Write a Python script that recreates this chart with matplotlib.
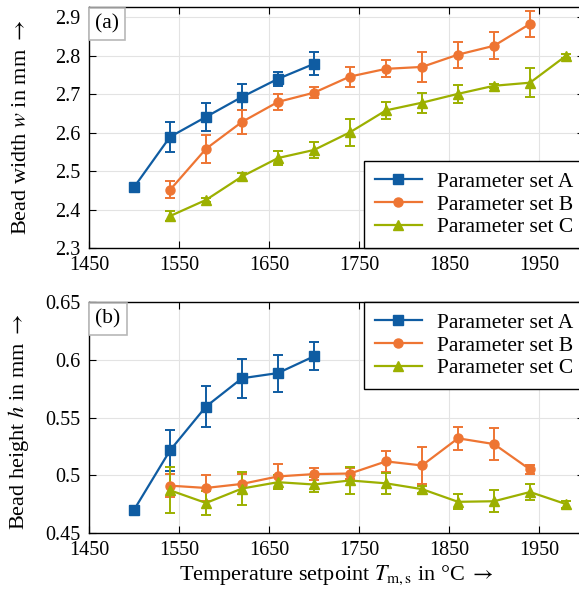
import matplotlib
matplotlib.use("Agg")
import matplotlib.pyplot as plt
from matplotlib.lines import Line2D
from matplotlib.ticker import FormatStrFormatter
from matplotlib.transforms import offset_copy

plt.rcParams['font.family'] = ['Liberation Serif', 'DejaVu Serif']
plt.rcParams['mathtext.fontset'] = 'stix'

# temperatures
T_A = [1500, 1540, 1580, 1620, 1660, 1700]
T_B = [1540, 1580, 1620, 1660, 1700, 1740, 1780, 1820, 1860, 1900, 1940]
T_C = [1540, 1580, 1620, 1660, 1700, 1740, 1780, 1820, 1860, 1900, 1940, 1980]

# bead width w
w_A = [2.458, 2.589, 2.641, 2.693, 2.740, 2.779]
w_A_err = [0.004, 0.040, 0.036, 0.033, 0.019, 0.030]
w_B = [2.451, 2.558, 2.628, 2.680, 2.704, 2.746, 2.766, 2.771, 2.803, 2.826, 2.883]
w_B_err = [0.022, 0.036, 0.032, 0.020, 0.015, 0.026, 0.022, 0.039, 0.034, 0.035, 0.033]
w_C = [2.383, 2.425, 2.486, 2.534, 2.555, 2.601, 2.658, 2.678, 2.701, 2.722, 2.730, 2.800]
w_C_err = [0.012, 0.005, 0.008, 0.017, 0.020, 0.035, 0.022, 0.026, 0.024, 0.005, 0.038, 0.005]

# bead height h
h_A = [0.470, 0.5215, 0.5595, 0.584, 0.5885, 0.603]
h_A_err = [0.003, 0.018, 0.018, 0.017, 0.016, 0.012]
h_B = [0.491, 0.489, 0.4925, 0.499, 0.501, 0.5015, 0.512, 0.5085, 0.532, 0.527, 0.505]
h_B_err = [0.010, 0.011, 0.009, 0.011, 0.005, 0.005, 0.009, 0.016, 0.010, 0.0135, 0.004]
h_C = [0.487, 0.476, 0.4885, 0.494, 0.492, 0.4955, 0.493, 0.488, 0.477, 0.4775, 0.4855, 0.475]
h_C_err = [0.020, 0.0105, 0.014, 0.006, 0.0066, 0.0115, 0.009, 0.003, 0.0065, 0.0095, 0.0068, 0.003]

labels = ['Parameter set A', 'Parameter set B', 'Parameter set C']
colors = ['#0F5CA2', '#EE7533', '#9CB000']
markers = ['s', 'o', '^']
xticks = [1450, 1550, 1650, 1750, 1850, 1950]

fig = plt.figure(figsize=(5.79, 5.90), dpi=100)
ax1 = fig.add_axes([0.1537, 0.5797, 0.855, 0.4085])
ax2 = fig.add_axes([0.1537, 0.0966, 0.855, 0.3915])


def draw(ax, data, ylim, yticks, loc, tag):
    handles = []
    for (T, v, e), lab, c, m in zip(data, labels, colors, markers):
        ax.errorbar(T, v, yerr=e, color=c, marker=m, markersize=6.5, lw=1.6,
                    elinewidth=1.4, capsize=3.5, capthick=1.4)
        handles.append(Line2D([], [], color=c, marker=m, markersize=6.5, lw=1.6, label=lab))
    ax.set_xlim(1450, 2000)
    ax.set_ylim(*ylim)
    ax.set_xticks(xticks)
    ax.set_yticks(yticks)
    ax.yaxis.set_major_formatter(FormatStrFormatter('%g'))
    ax.grid(True, color='#e3e3e3', lw=0.8)
    ax.set_axisbelow(True)
    ax.tick_params(direction='in', top=True, right=True, length=5, width=0.8,
                   labelsize=14.5, pad=6)
    for s in ax.spines.values():
        s.set_linewidth(1.0)
    leg = ax.legend(handles=handles, loc=loc, fontsize=15.5, frameon=True, fancybox=False,
                    edgecolor='black', framealpha=1, borderaxespad=0,
                    handlelength=2.2, handletextpad=0.7, labelspacing=0.12, borderpad=0.5)
    leg.get_frame().set_linewidth(1.0)
    tr = offset_copy(ax.transAxes, fig=fig, x=6, y=-7, units='dots')
    ax.text(0.0, 1.0, tag, transform=tr, ha='left', va='top', fontsize=15.5,
            bbox=dict(boxstyle='square,pad=0.3', fc='white', ec='#b8b8b8', lw=1.2))


draw(ax1, [(T_A, w_A, w_A_err), (T_B, w_B, w_B_err), (T_C, w_C, w_C_err)],
     (2.3, 2.927), [2.3, 2.4, 2.5, 2.6, 2.7, 2.8, 2.9], 'lower right', '(a)')
draw(ax2, [(T_A, h_A, h_A_err), (T_B, h_B, h_B_err), (T_C, h_C, h_C_err)],
     (0.45, 0.65), [0.45, 0.5, 0.55, 0.6, 0.65], 'upper right', '(b)')

ax1.set_ylabel('Bead width $w$ in mm $\\rightarrow$', fontsize=16)
ax2.set_ylabel('Bead height $h$ in mm $\\rightarrow$', fontsize=16)
ax1.yaxis.set_label_coords(-0.118, 0.5)
ax2.yaxis.set_label_coords(-0.118, 0.48)
ax2.set_xlabel('Temperature setpoint $T_{\\mathrm{m,s}}$ in °C $\\rightarrow$', fontsize=16, labelpad=2)

fig.savefig('out.png', dpi=100)
